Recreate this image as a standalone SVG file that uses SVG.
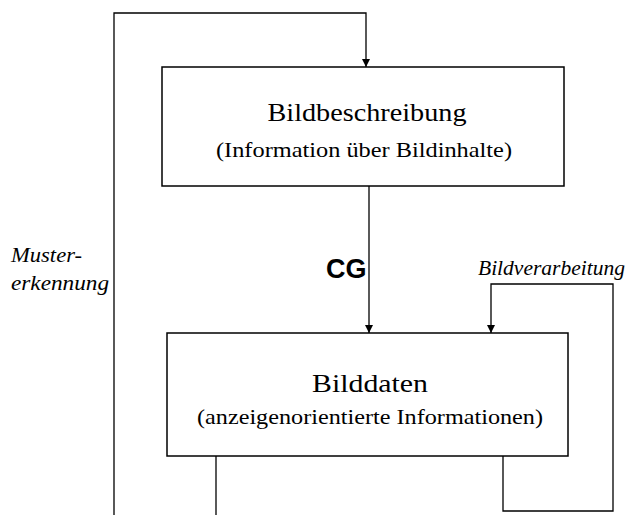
<svg xmlns="http://www.w3.org/2000/svg" width="633" height="515" viewBox="0 0 633 515">
<style>
.box{fill:#fff;stroke:#000;stroke-width:1.5}
.ln{fill:none;stroke:#000;stroke-width:1.3}
.t1{font-family:"Liberation Serif",serif;font-size:26px;text-anchor:middle;fill:#000}
.t2{font-family:"Liberation Serif",serif;font-size:21px;text-anchor:middle;fill:#000}
.it{font-family:"Liberation Serif",serif;font-style:italic;font-size:20px;fill:#000}
.cg{font-family:"Liberation Sans",sans-serif;font-weight:bold;font-size:27px;fill:#000}
</style>
<defs>
<marker id="ah" viewBox="0 0 8 12" refX="8" refY="6" markerWidth="8" markerHeight="12" markerUnits="userSpaceOnUse" orient="auto">
<path d="M0,2 L8,6 L0,10 Z" fill="#000"/>
</marker>
</defs>
<rect width="633" height="515" fill="#fff"/>
<g id="connectors">
<path class="ln" d="M114,515 L114,13 L366,13 L366,67" marker-end="url(#ah)"/>
<path class="ln" d="M369,186 L369,333" marker-end="url(#ah)"/>
<path class="ln" d="M503,456 L503,511 L613,511 L613,284 L491,284 L491,333" marker-end="url(#ah)"/>
<path class="ln" d="M216,456 L216,515"/>
</g>
<g id="bildbeschreibung">
<rect class="box" x="162" y="67" width="402" height="119"/>
<text class="t1" x="367" y="121" textLength="199" lengthAdjust="spacingAndGlyphs">Bildbeschreibung</text>
<text class="t2" x="364" y="157" textLength="296" lengthAdjust="spacingAndGlyphs">(Information über Bildinhalte)</text>
</g>
<g id="bilddaten">
<rect class="box" x="167" y="333" width="401" height="123"/>
<text class="t1" x="370" y="392" textLength="116" lengthAdjust="spacingAndGlyphs">Bilddaten</text>
<text class="t2" x="370" y="424" textLength="346" lengthAdjust="spacingAndGlyphs">(anzeigenorientierte Informationen)</text>
</g>
<g id="labels">
<text class="it" x="11" y="262" textLength="71" lengthAdjust="spacingAndGlyphs">Muster-</text>
<text class="it" x="11" y="290" textLength="98" lengthAdjust="spacingAndGlyphs">erkennung</text>
<text class="it" x="478" y="275" textLength="147" lengthAdjust="spacingAndGlyphs">Bildverarbeitung</text>
<text class="cg" x="326" y="278">CG</text>
</g>
</svg>
